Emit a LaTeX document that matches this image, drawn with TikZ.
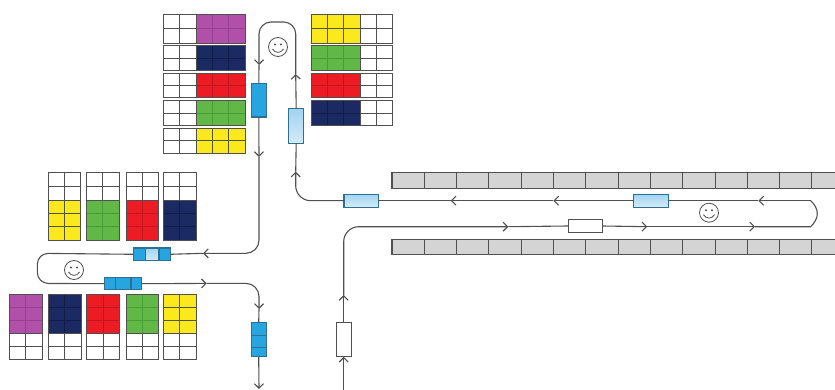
\documentclass[tikz,border=0pt]{standalone}
\usepackage{tikz}
\usetikzlibrary{arrows.meta,positioning}
\definecolor{BinMagenta}{HTML}{B050A8}
\definecolor{BinMagentaLine}{HTML}{96408F}
\definecolor{BinNavy}{HTML}{1B2A63}
\definecolor{BinNavyLine}{HTML}{121C48}
\definecolor{BinRed}{HTML}{ED1C24}
\definecolor{BinRedLine}{HTML}{C0161E}
\definecolor{BinGreen}{HTML}{62B846}
\definecolor{BinGreenLine}{HTML}{4A9C34}
\definecolor{BinYellow}{HTML}{FBE91E}
\definecolor{BinYellowLine}{HTML}{55552F}
\definecolor{BinWhite}{HTML}{FFFFFF}
\definecolor{BinWhiteLine}{HTML}{505050}
\definecolor{TrackGray}{HTML}{505050}
\definecolor{BeltGray}{HTML}{D4D4D4}
\definecolor{ShuttleBlue}{HTML}{27A5E0}
\definecolor{ShuttleEdge}{HTML}{2F6F8F}
\definecolor{ShuttlePale}{HTML}{B7DDF5}
\newcommand{\cellblock}[7]{%
\fill[#7] (#1,#2) rectangle (#3,#4);
\foreach \i in {1,...,#5} \draw[#7Line,line width=1pt] ({#1+(#3-#1)*\i/#5},#2) -- ({#1+(#3-#1)*\i/#5},#4);
\foreach \i in {1,...,#6} \draw[#7Line,line width=1pt] (#1,{#2+(#4-#2)*\i/#6}) -- (#3,{#2+(#4-#2)*\i/#6});
\draw[TrackGray,line width=1pt] (#1,#2) rectangle (#3,#4);
}
\newcommand{\beltrow}[2]{%
\fill[BeltGray] (392,#1) rectangle (835,#2);
\foreach \k in {1,...,13} \draw[TrackGray,line width=1pt] ({392+32.3*\k},#1) -- ({392+32.3*\k},#2);
\draw[TrackGray,line width=1.1pt] (835,#1) -- (392,#1) -- (392,#2) -- (835,#2);
}
\tikzset{
smiley/.pic={
\draw[TrackGray,line width=.8pt] (0,0) circle (9.5);
\fill[TrackGray] (-3,-2.5) circle (1.1) (3,-2.5) circle (1.1);
\draw[TrackGray,line width=.8pt] (-5.5,2) .. controls (-3,6.5) and (3,6.5) .. (5.5,2);
}
}
\begin{document}
\begin{tikzpicture}[
x=1pt,y=-1pt,
node distance=0pt,
slot/.style={draw=TrackGray,line width=1.1pt,inner sep=0pt,outer sep=0pt,fill=white},
hslot/.style={slot,minimum width=34.5pt,minimum height=13pt},
vslot/.style={slot,minimum width=15pt,minimum height=34.5pt},
blue/.style={slot,draw=ShuttleEdge,fill=ShuttleBlue},
pale/.style={slot,draw=ShuttleEdge,shade,top color=ShuttlePale!85!ShuttleBlue,bottom color=ShuttlePale!60!white},
flow/.style={draw=TrackGray,line width=1.1pt},
arr/.style={flow,-{Straight Barb[length=4.5pt,width=9pt]}}
]
\useasboundingbox (0,0) rectangle (835,390);
% top stacks
\foreach \ya/\yb/\col in {14.3/43.3/BinMagenta,45.7/71/BinNavy,74/97.7/BinRed,101/125.3/BinGreen,128.3/153.3/BinYellow}{
\cellblock{163.5}{\ya}{196}{\yb}{2}{2}{BinWhite}
\cellblock{196}{\ya}{245}{\yb}{3}{2}{\col}
}
\foreach \ya/\yb/\col in {14.3/43.3/BinYellow,45.7/71/BinGreen,74/98/BinRed,101/125.7/BinNavy}{
\cellblock{311.7}{\ya}{360}{\yb}{3}{2}{\col}
\cellblock{360}{\ya}{392.7}{\yb}{2}{2}{BinWhite}
}
% middle bins
\foreach \xa/\xb/\col in {48.3/80.7/BinYellow,86/119.3/BinGreen,126/158.3/BinRed,163.3/196/BinNavy}{
\cellblock{\xa}{173}{\xb}{200.3}{2}{2}{BinWhite}
\cellblock{\xa}{200.3}{\xb}{240.3}{2}{3}{\col}
}
% bottom bins
\foreach \xa/\xb/\col in {9.3/42.3/BinMagenta,48.3/81/BinNavy,86.7/119.3/BinRed,126/158.7/BinGreen,163.7/196/BinYellow}{
\cellblock{\xa}{294}{\xb}{333.7}{2}{3}{\col}
\cellblock{\xa}{333.7}{\xb}{359.7}{2}{2}{BinWhite}
}
% belts
\beltrow{172.7}{188.3}
\beltrow{239.7}{254.3}
% shuttles
\node[vslot,fill=white] (entry) at (343.7,339.5) {};
\node[hslot,fill=white] (lanein) at (585.3,226) {};
\node[hslot,pale] (laneouta) at (650.8,200.7) {};
\node[hslot,pale] (laneoutb) at (361.2,200.7) {};
\node[vslot,pale] (riser) at (296.2,126.2) {};
\node[vslot,blue,minimum height=33.7pt] (drop) at (258.8,100.2) {};
\node[blue,minimum width=12pt,minimum height=12.7pt] (traina) at (139.7,254.3) {};
\node[pale,minimum width=13.3pt,minimum height=12.7pt,right=of traina] (trainb) {};
\node[blue,minimum width=11.3pt,minimum height=12.7pt,right=of trainb] (trainc) {};
\node[blue,minimum width=11.4pt,minimum height=12pt] (traind) at (110,283.7) {};
\node[blue,minimum width=15.3pt,minimum height=12pt,right=of traind] (traine) {};
\node[blue,minimum width=10.7pt,minimum height=12pt,right=of traine] (trainf) {};
\node[blue,minimum width=14.7pt,minimum height=13.4pt] (exita) at (258.7,329) {};
\node[blue,minimum width=14.7pt,minimum height=11.6pt,below=of exita] (exitb) {};
\node[blue,minimum width=14.7pt,minimum height=9.4pt,below=of exitb] (exitc) {};
% way points
\coordinate (start) at (343.7,390);
\coordinate (upa) at (343.7,295);
\coordinate (bend) at (343.7,226.7);
\coordinate (ina) at (508.3,226.7);
\coordinate (inb) at (647.3,226.7);
\coordinate (inc) at (755,226.7);
\coordinate (turna) at (810.7,226.7);
\coordinate (turnb) at (810.7,200.7);
\coordinate (outa) at (758.3,200.7);
\coordinate (outb) at (553.3,200.7);
\coordinate (outc) at (450.7,200.7);
\coordinate (risecorner) at (295.7,200.7);
\coordinate (upb) at (295.7,171.7);
\coordinate (upc) at (295.7,74);
\coordinate (topr) at (295.7,22);
\coordinate (topl) at (259,22);
\coordinate (downa) at (259,65);
\coordinate (downb) at (259,157);
\coordinate (dropcorner) at (259,253.3);
\coordinate (backa) at (203,253.3);
\coordinate (uturna) at (37.3,253.3);
\coordinate (uturnb) at (37.3,283.4);
\coordinate (fwda) at (206.7,283.4);
\coordinate (exitcorner) at (259,283.4);
\coordinate (downc) at (259,309);
\coordinate (finish) at (259,389);
% track
\draw[arr] (start) -- (entry.south);
\draw[arr] (entry.north) -- (upa);
\draw[arr,rounded corners=15pt] (upa) -- (bend) -- (ina);
\draw[flow] (ina) -- (lanein.west);
\draw[arr] (lanein.east) -- (inb);
\draw[arr] (inb) -- (inc);
\draw[flow] (inc) -- (turna) .. controls (819.5,218) and (819.5,209) .. (turnb);
\draw[arr] (turnb) -- (outa);
\draw[flow] (outa) -- (laneouta.east);
\draw[arr] (laneouta.west) -- (outb);
\draw[arr] (outb) -- (outc);
\draw[flow] (outc) -- (laneoutb.east);
\draw[arr,rounded corners=15pt] (laneoutb.west) -- (risecorner) -- (upb);
\draw[flow] (upb) -- (riser.south);
\draw[arr] (riser.north) -- (upc);
\draw[arr,rounded corners=12pt] (upc) -- (topr) -- (topl) -- (downa);
\draw[flow] (downa) -- (drop.north);
\draw[arr] (drop.south) -- (downb);
\draw[arr,rounded corners=13pt] (downb) -- (dropcorner) -- (backa);
\draw[flow] (backa) -- (trainc.east);
\draw[flow,rounded corners=11pt] (traina.west) -- (uturna) -- (uturnb) -- (traind.west);
\draw[arr] (trainf.east) -- (fwda);
\draw[arr,rounded corners=13pt] (fwda) -- (exitcorner) -- (downc);
\draw[flow] (downc) -- (exita.north);
\draw[arr] (exitc.south) -- (finish);
% faces
\pic (facetop) at (278,47) {smiley};
\pic (faceleft) at (74,270) {smiley};
\pic (faceright) at (709,212.7) {smiley};
\end{tikzpicture}
\end{document}
